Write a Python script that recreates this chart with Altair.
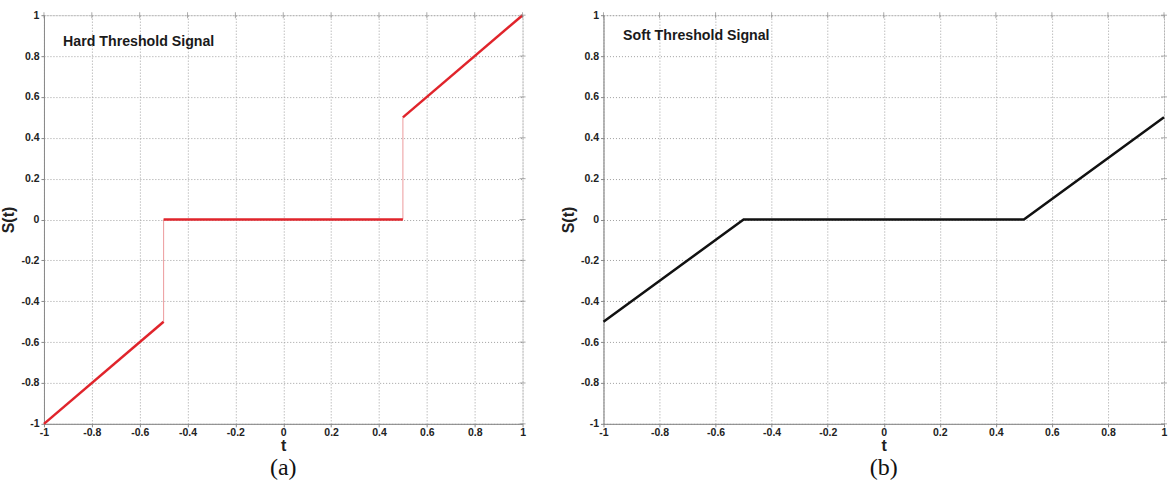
import altair as alt
import pandas as pd

# Hard threshold: thick segments and thin jump connectors
hard_seg_id = [0, 0, 1, 1, 2, 2]
hard_t = [-1.0, -0.5, -0.5, 0.5, 0.5, 1.0]
hard_s = [-1.0, -0.5, 0.0, 0.0, 0.5, 1.0]
jump_id = [0, 0, 1, 1]
jump_t = [-0.5, -0.5, 0.5, 0.5]
jump_s = [-0.5, 0.0, 0.0, 0.5]

# Soft threshold
soft_t = [-1.0, -0.5, 0.5, 1.0]
soft_s = [-0.5, 0.0, 0.0, 0.5]

tick_vals = [-1, -0.8, -0.6, -0.4, -0.2, 0, 0.2, 0.4, 0.6, 0.8, 1]

FONT = "Liberation Sans Narrow, Liberation Sans, Arial"

hard_df = pd.DataFrame({"seg": hard_seg_id, "t": hard_t, "s": hard_s})
jump_df = pd.DataFrame({"seg": jump_id, "t": jump_t, "s": jump_s})
soft_df = pd.DataFrame({"t": soft_t, "s": soft_s})

LBL = "'' + datum.value"


def axes():
    common = dict(values=tick_vals, grid=True, gridDash=[1, 2],
                  gridColor="#a0a0a0", gridWidth=1, tickColor="#888",
                  domainColor="#888", labelFont=FONT, labelFontSize=10.5,
                  labelFontWeight="bold", labelColor="#222",
                  titleFont="Liberation Sans", titleFontWeight="bold",
                  titleColor="#222", tickSize=3, labelFlush=False,
                  labelExpr=LBL)
    xax = alt.Axis(title="t", labelPadding=1, titlePadding=-1, titleFontSize=16, **common)
    yax = alt.Axis(title="S(t)", labelPadding=2, titlePadding=4, titleFontSize=16, **common)
    return xax, yax


def panel(layers_fn, label, lx, ly, caption, w, h):
    xax, yax = axes()
    xs = alt.Scale(domain=[-1, 1], nice=False, zero=False)
    ys = alt.Scale(domain=[-1, 1], nice=False, zero=False)
    base_layers = layers_fn(xs, ys, xax, yax)
    txt = alt.Chart(pd.DataFrame({"t": [lx], "s": [ly], "lab": [label]})).mark_text(
        align="left", baseline="middle", font=FONT, fontSize=14.2,
        fontWeight="bold", color="#1a1a1a"
    ).encode(x=alt.X("t:Q", scale=xs), y=alt.Y("s:Q", scale=ys), text="lab:N")
    # right-side and top ticks (box style)
    rt = alt.Chart(pd.DataFrame({"v": tick_vals})).mark_tick(
        color="#888", thickness=1, size=6, orient="horizontal"
    ).encode(y=alt.Y("v:Q", scale=ys), x=alt.value(w))
    tp = alt.Chart(pd.DataFrame({"v": tick_vals})).mark_tick(
        color="#888", thickness=1, size=6, orient="vertical"
    ).encode(x=alt.X("v:Q", scale=xs), y=alt.value(0))
    return alt.layer(*base_layers, txt, rt, tp).properties(
        width=w, height=h,
        title=alt.TitleParams(caption, orient="bottom", font="Liberation Serif",
                              fontSize=24, fontWeight="normal", color="#111", offset=3),
    )


def hard_layers(xs, ys, xax, yax):
    thick = alt.Chart(hard_df).mark_line(color="#e0242b", strokeWidth=2.5).encode(
        x=alt.X("t:Q", scale=xs, axis=xax), y=alt.Y("s:Q", scale=ys, axis=yax),
        detail="seg:N")
    thin = alt.Chart(jump_df).mark_line(color="#ec9a9c", strokeWidth=1).encode(
        x=alt.X("t:Q", scale=xs), y=alt.Y("s:Q", scale=ys), detail="seg:N")
    return [thin, thick]


def soft_layers(xs, ys, xax, yax):
    line = alt.Chart(soft_df).mark_line(color="#111111", strokeWidth=2.5).encode(
        x=alt.X("t:Q", scale=xs, axis=xax), y=alt.Y("s:Q", scale=ys, axis=yax))
    return [line]


left = panel(hard_layers, "Hard Threshold Signal", -0.92, 0.87, "(a)", 479, 409)
right = panel(soft_layers, "Soft Threshold Signal", -0.93, 0.9, "(b)", 561, 409)

chart = alt.hconcat(left, right, spacing=31).configure_view(
    stroke="#888", strokeWidth=1
).configure(background="white", padding={"left": 0, "top": 9, "right": 0, "bottom": 0})

chart.save("out.html", embed_options={"renderer": "svg", "actions": False})
